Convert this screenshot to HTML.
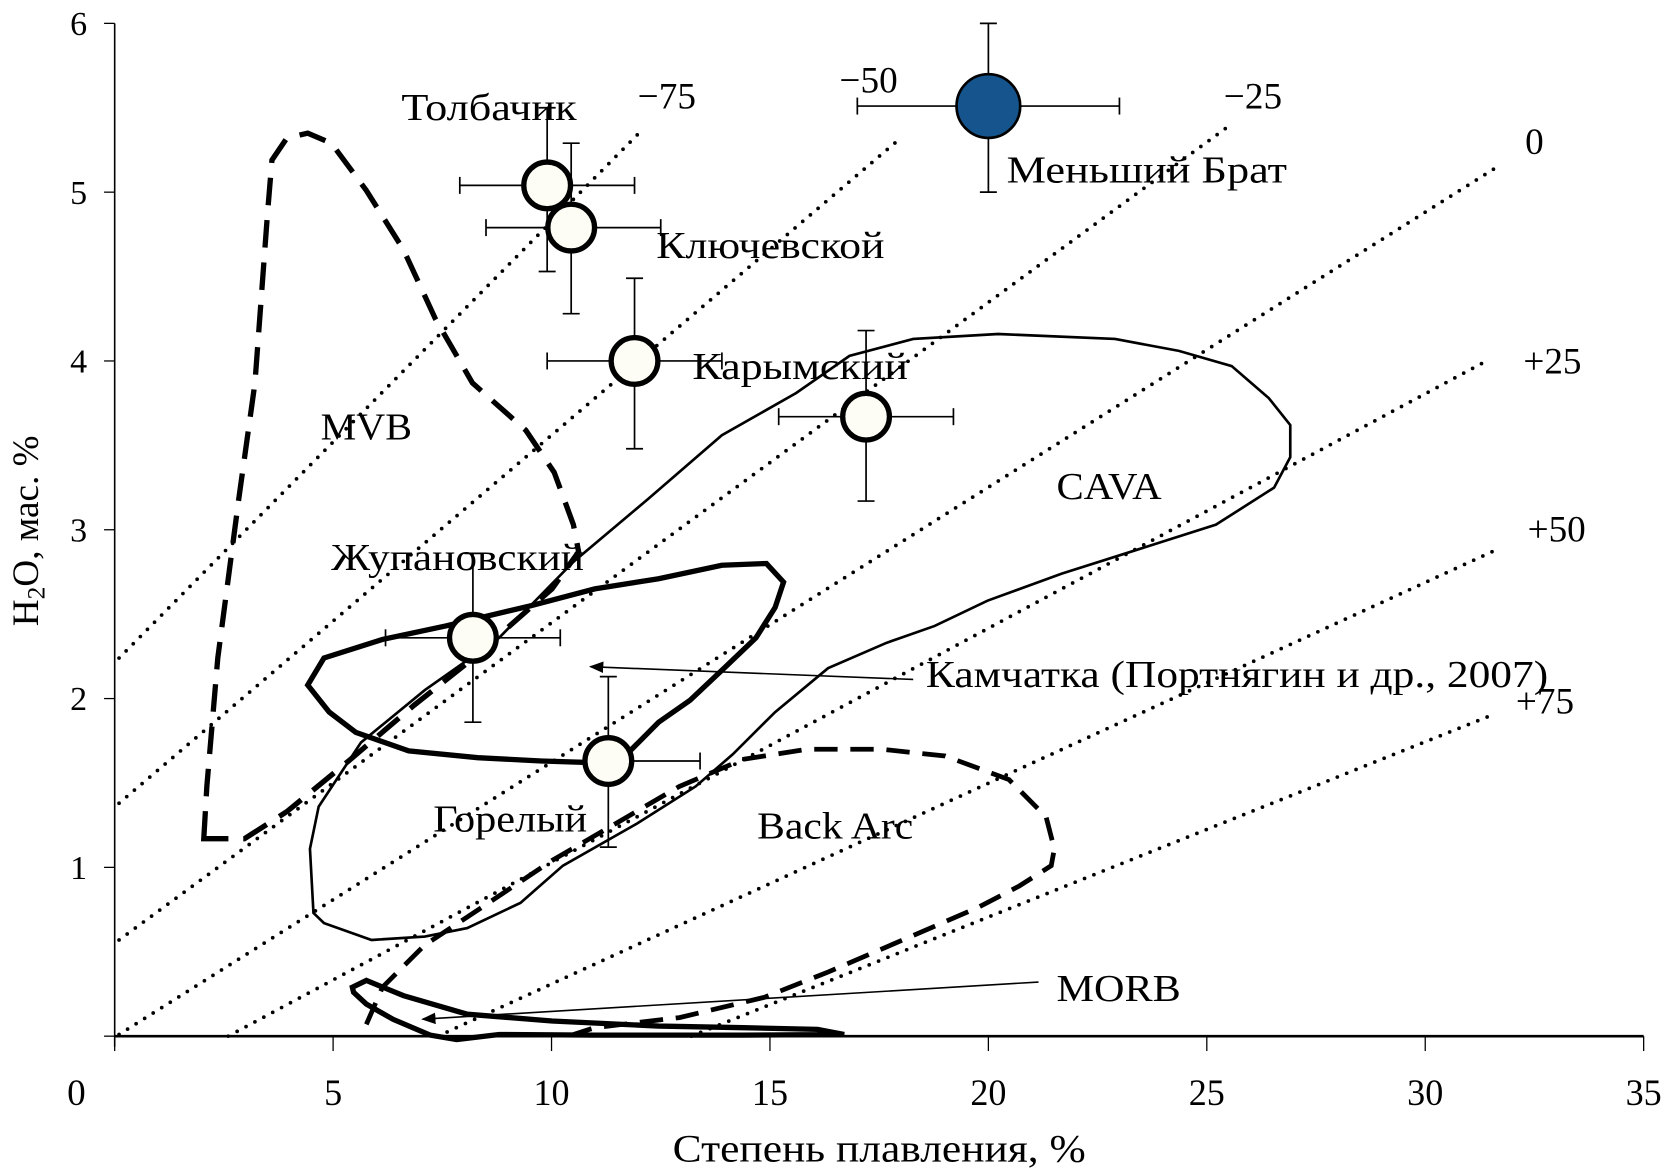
<!DOCTYPE html>
<html><head><meta charset="utf-8"><style>
html,body{margin:0;padding:0;background:#fff;}
svg{display:block;font-family:"Liberation Serif","DejaVu Serif",serif;}
</style></head><body>
<svg id="chart" width="1665" height="1171" viewBox="0 0 1568 1103" preserveAspectRatio="none" xmlns="http://www.w3.org/2000/svg">
<defs><marker id="ah" viewBox="0 0 10 10" refX="9" refY="5" markerWidth="9" markerHeight="9" orient="auto-start-reverse"><path d="M0,1 L10,5 L0,9 z" fill="#000"/></marker></defs>
<g id="plot"></g>
</svg>
<script>
const xTicks=[0,5,10,15,20,25,30,35];
const yTicks=[0,1,2,3,4,5,6];
const isoNames=["−75","−50","−25","0","+25","+50","+75"];
const isoStartX=[0.1,0.1,0.1,0.1,2.6,7.4,13.2];
const isoStartY=[2.24,1.38,0.57,0.01,0,0,0];
const isoEndX=[12.08,17.99,25.6,31.65,31.4,31.7,31.6];
const isoEndY=[5.37,5.32,5.41,5.15,4.0,2.89,1.91];
const ptNames=["Толбачик","Ключевской","Карымский","unnamed","Жупановский","Горелый","Меньший Брат"];
const ptX=[9.9,10.45,11.9,17.2,8.2,11.3,20.0];
const ptY=[5.04,4.79,4.0,3.67,2.36,1.63,5.51];
const errXlo=[7.9,8.5,9.9,15.2,6.2,11.3,17.0];
const errXhi=[11.9,12.5,13.9,19.2,10.2,13.4,23.0];
const errYlo=[4.53,4.28,3.48,3.17,1.86,1.12,5.0];
const errYhi=[5.5,5.29,4.49,4.18,2.86,2.13,6.0];
const mvb=[[2.04,1.17],[2.11,1.48],[2.36,2.24],[2.84,3.18],[3.21,3.87],[3.5,4.88],[3.6,5.19],[3.94,5.32],[4.42,5.35],[4.96,5.29],[5.76,5.01],[6.61,4.66],[7.34,4.25],[8.19,3.87],[9.41,3.59],[10.06,3.34],[10.5,3.03],[10.62,2.87],[10.01,2.65],[9.04,2.43],[8.07,2.21],[6.85,1.96],[5.4,1.64],[3.94,1.33],[2.97,1.17]];
const cava=[[4.55,0.73],[4.47,1.11],[4.67,1.36],[5.64,1.74],[7.1,2.05],[8.8,2.36],[10.5,2.81],[12.2,3.18],[13.9,3.56],[15.6,3.81],[16.82,4.03],[18.28,4.13],[20.22,4.16],[22.9,4.13],[24.36,4.06],[25.57,3.97],[26.42,3.78],[26.91,3.62],[26.91,3.43],[26.54,3.25],[25.21,3.03],[23.63,2.9],[21.68,2.74],[19.98,2.58],[18.77,2.43],[17.67,2.33],[16.33,2.18],[15.12,1.92],[14.15,1.67],[13.3,1.48],[11.96,1.26],[10.26,1.01],[9.29,0.79],[8.07,0.64],[7.1,0.59],[5.88,0.57],[4.79,0.67]];
const kam=[[4.79,2.24],[6.13,2.35],[7.58,2.43],[9.53,2.55],[10.99,2.65],[12.45,2.71],[13.9,2.79],[14.92,2.8],[15.31,2.69],[15.12,2.54],[14.68,2.36],[13.95,2.18],[13.17,1.99],[12.45,1.86],[11.72,1.67],[10.99,1.62],[9.77,1.63],[8.31,1.65],[6.73,1.69],[5.52,1.8],[4.91,1.92],[4.42,2.08]];
const backArc=[[5.76,0.07],[6.13,0.29],[7.1,0.54],[8.56,0.79],[10.01,1.04],[11.47,1.26],[12.93,1.48],[14.39,1.64],[15.85,1.7],[17.55,1.7],[19.01,1.66],[20.47,1.52],[21.32,1.3],[21.51,1.11],[21.44,1.01],[20.71,0.89],[19.74,0.76],[18.04,0.57],[16.33,0.38],[14.87,0.23],[12.93,0.11],[10.99,0.05],[10.5,0.01]];
const morb=[[5.44,0.29],[5.76,0.33],[6.61,0.24],[8.07,0.13],[10.01,0.09],[12.45,0.06],[14.39,0.05],[16.09,0.04],[16.7,0.01],[14.39,0.006],[10.99,0.006],[8.8,0.01],[7.83,-0.02],[7.22,0.006],[6.37,0.1],[5.76,0.19],[5.47,0.26]];

const X=v=>108+v*41.14, Y=v=>976-v*159;
const g=document.getElementById('plot');
const NS="http://www.w3.org/2000/svg";
function mk(tag,at,txt){const e=document.createElementNS(NS,tag);for(const k in at)e.setAttribute(k,at[k]);if(txt!==undefined)e.textContent=txt;g.appendChild(e);return e;}
const pts=a=>a.map(p=>X(p[0]).toFixed(1)+","+Y(p[1]).toFixed(1)).join(" ");

let e=mk('line',{x1:X(0),y1:Y(0),x2:X(35),y2:Y(0),stroke:'#000','stroke-width':2.5});


e=mk('line',{x1:X(0),y1:Y(6),x2:X(0),y2:Y(0)+10,stroke:'#000','stroke-width':1.5});


xTicks.forEach(t=>{
 mk('line',{x1:X(t),y1:Y(0),x2:X(t),y2:Y(0)+14,stroke:'#000','stroke-width':1.2});
 if(t===0) return;
 e=mk('text',{x:X(t),y:1041,'text-anchor':'middle','font-size':35,textLength:String(t).length*17,lengthAdjust:'spacingAndGlyphs'},String(t));
 
 
});
yTicks.forEach(t=>{
 mk('line',{x1:X(0)-10,y1:Y(t),x2:X(0),y2:Y(t),stroke:'#000','stroke-width':1.2});
 e=mk('text',{x:t===0?72:74,y:t===0?1041:Y(t)+11,'text-anchor':'middle','font-size':t===0?35:32},String(t));
 
 
});
e=mk('text',{x:828,y:1094,'text-anchor':'middle','font-size':37,textLength:389,lengthAdjust:'spacingAndGlyphs'},'Степень плавления, %');


e=mk('text',{x:0,y:0,'text-anchor':'middle','font-size':35,transform:'translate(36,500) rotate(-90)'});
e.innerHTML='H<tspan font-size="24" dy="6">2</tspan><tspan dy="-6">O, мас. %</tspan>';



isoNames.forEach((n,i)=>{
 e=mk('line',{x1:X(isoStartX[i]),y1:Y(isoStartY[i]),x2:X(isoEndX[i]),y2:Y(isoEndY[i]),stroke:'#000','stroke-width':3.5,'stroke-linecap':'round','stroke-dasharray':'0 9.5'});
 
 
});
const isoLab=[[628,90],[818,75],[1180,90],[1445,133],[1462,340],[1466,498],[1455,660]];
isoNames.forEach((n,i)=>{
 e=mk('text',{x:isoLab[i][0],y:isoLab[i][1]+12,'text-anchor':'middle','font-size':35},n);
 
 
});

e=mk('polygon',{points:pts(mvb),fill:'none',stroke:'#000','stroke-width':5,'stroke-dasharray':'26 14'});


e=mk('polygon',{points:pts(cava),fill:'none',stroke:'#000','stroke-width':2.5});


e=mk('polygon',{points:pts(kam),fill:'none',stroke:'#000','stroke-width':5});


e=mk('polyline',{points:pts(backArc),fill:'none',stroke:'#000','stroke-width':4.5,'stroke-dasharray':'22 12'});


e=mk('polygon',{points:pts(morb),fill:'none',stroke:'#000','stroke-width':5});



e=mk('line',{x1:860,y1:640,x2:556,y2:628,stroke:'#000','stroke-width':1.5,'marker-end':'url(#ah)'});


e=mk('line',{x1:978,y1:925,x2:398,y2:960,stroke:'#000','stroke-width':1.5,'marker-end':'url(#ah)'});



ptNames.forEach((n,i)=>{
 mk('line',{x1:X(errXlo[i]),y1:Y(ptY[i]),x2:X(errXhi[i]),y2:Y(ptY[i]),stroke:'#000','stroke-width':1.6});
 mk('line',{x1:X(ptX[i]),y1:Y(errYlo[i]),x2:X(ptX[i]),y2:Y(errYhi[i]),stroke:'#000','stroke-width':1.6});
 [errXlo[i],errXhi[i]].forEach(v=>mk('line',{x1:X(v),y1:Y(ptY[i])-8,x2:X(v),y2:Y(ptY[i])+8,stroke:'#000','stroke-width':1.6}));
 [errYlo[i],errYhi[i]].forEach(v=>mk('line',{x1:X(ptX[i])-8,y1:Y(v),x2:X(ptX[i])+8,y2:Y(v),stroke:'#000','stroke-width':1.6}));
 const big=i===6;
 e=mk('circle',{cx:X(ptX[i]),cy:Y(ptY[i]),r:big?30:22,fill:big?'#15548c':'#fdfdf5',stroke:'#000','stroke-width':big?2.5:5});
 
 
});

const labs=[['Толбачик',378,113,165],['Ключевской',618,243,215],['Карымский',652,357,203],['Меньший Брат',948,172,264],['MVB',302,414,86],['CAVA',995,470,99],['Жупановский',312,537,238],['Камчатка (Портнягин и др., 2007)',872,647,586],['Горелый',408,783,145],['Back Arc',713,790,147],['MORB',995,943,117]];
labs.forEach(l=>{
 e=mk('text',{x:l[1],y:l[2],'font-size':36,textLength:l[3],lengthAdjust:'spacingAndGlyphs'},l[0]);
 
 
});
</script>
</body></html>
